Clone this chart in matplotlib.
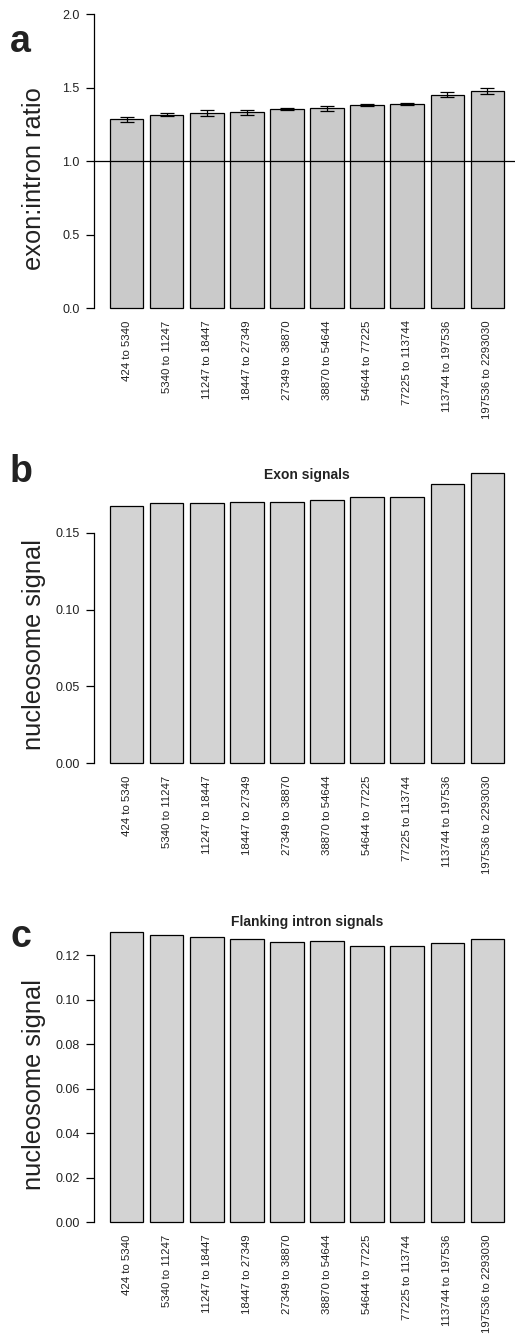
import matplotlib
matplotlib.use("Agg")
import matplotlib.pyplot as plt
import numpy as np

plt.rcParams['font.family'] = ['Liberation Sans', 'DejaVu Sans']

categories = ["424 to 5340", "5340 to 11247", "11247 to 18447", "18447 to 27349",
              "27349 to 38870", "38870 to 54644", "54644 to 77225", "77225 to 113744",
              "113744 to 197536", "197536 to 2293030"]

ratio = [1.284, 1.318, 1.330, 1.332, 1.355, 1.359, 1.382, 1.391, 1.452, 1.480]
ratio_err = [0.018, 0.011, 0.019, 0.016, 0.007, 0.018, 0.008, 0.006, 0.016, 0.019]

exon_signal = [0.1677, 0.1692, 0.1696, 0.1699, 0.1701, 0.1716, 0.1731, 0.1735, 0.1820, 0.1889]
intron_signal = [0.1305, 0.1290, 0.1282, 0.1273, 0.1260, 0.1264, 0.1243, 0.1240, 0.1257, 0.1273]

W, H = 515, 1343
fig = plt.figure(figsize=(W / 100, H / 100), dpi=100)

def px_axes(top, bottom, left=94.2, right=519.8):
    return fig.add_axes([left / W, 1 - bottom / H, (right - left) / W, (bottom - top) / H])

x = 0.7 + 1.2 * np.arange(len(categories))

def style(ax, ylim, ticks, ticklabels, color):
    ax.set_xlim(-0.272, 12.472)
    ax.set_ylim(*ylim)
    for s in ['top', 'right', 'bottom']:
        ax.spines[s].set_visible(False)
    ax.spines['left'].set_bounds(ticks[0], ticks[-1])
    ax.spines['left'].set_linewidth(0.9)
    ax.set_yticks(ticks)
    ax.set_yticklabels(ticklabels, fontsize=9, color='#222222')
    ax.tick_params(axis='y', length=5.5, width=0.9, pad=5)
    ax.set_xticks(x)
    ax.set_xticklabels(categories, rotation=90, fontsize=8.2, color='#222222', va='top')
    ax.tick_params(axis='x', length=0, pad=0.5)
    ax.patch.set_alpha(0)

# Panel a
axa = px_axes(2.6, 319.8)
axa.bar(x, ratio, width=1.0, color='#CACACA', edgecolor='black', linewidth=0.9, zorder=2)
axa.errorbar(x, ratio, yerr=ratio_err, fmt='none', ecolor='black', elinewidth=0.9,
             capsize=4.7, capthick=0.9, zorder=3)
axa.axhline(1.0, color='black', linewidth=0.9, zorder=4, clip_on=False)
style(axa, (-0.08, 2.08), [0, 0.5, 1.0, 1.5, 2.0], ["0.0", "0.5", "1.0", "1.5", "2.0"], '#CACACA')

# Panel b
axb = px_axes(461.3, 774.9)
axb.bar(x, exon_signal, width=1.0, color='#D3D3D3', edgecolor='black', linewidth=0.9, zorder=2)
mb = max(exon_signal)
style(axb, (-0.04 * mb, 1.04 * mb), [0, 0.05, 0.10, 0.15], ["0.00", "0.05", "0.10", "0.15"], '#D3D3D3')
axb.text(0.5, 0.9563, "Exon signals", transform=axb.transAxes, ha='center', va='center',
         fontsize=10, fontweight='bold', color='#222222')

# Panel c
axc = px_axes(920.4, 1233.9)
axc.bar(x, intron_signal, width=1.0, color='#D3D3D3', edgecolor='black', linewidth=0.9, zorder=2)
mc = max(intron_signal)
style(axc, (-0.04 * mc, 1.04 * mc), [0, 0.02, 0.04, 0.06, 0.08, 0.10, 0.12],
      ["0.00", "0.02", "0.04", "0.06", "0.08", "0.10", "0.12"], '#D3D3D3')
axc.text(0.5, 0.9939, "Flanking intron signals", transform=axc.transAxes, ha='center', va='center',
         fontsize=10, fontweight='bold', color='#222222')

# Y labels
def ylab(text, xc, yc):
    fig.text(xc / W, 1 - yc / H, text, rotation=90, ha='center', va='center', fontsize=18.3,
             color='#222222')

ylab("exon:intron ratio", 34, 179)
ylab("nucleosome signal", 34, 645)
ylab("nucleosome signal", 34, 1084)

# Panel letters
for letter, yb in [("a", 52), ("b", 482), ("c", 947)]:
    fig.text(10 / W, 1 - yb / H, letter, ha='left', va='baseline', fontsize=27,
             fontweight='bold', color='#222222')

fig.savefig("out.png", dpi=100)
